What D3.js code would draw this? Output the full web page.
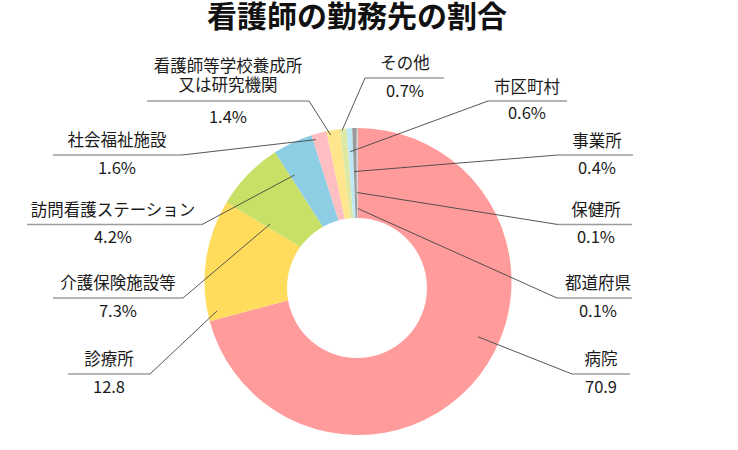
<!DOCTYPE html>
<html lang="ja">
<head>
<meta charset="utf-8">
<script src="https://cdn.jsdelivr.net/npm/d3@7"></script>
<style>
    html, body { margin: 0; padding: 0; background: #fff; }
    svg { display: block; font-family: "Noto Sans CJK JP", "Noto Sans", sans-serif; }
</style>
</head>
<body>
<div id="chart"></div>
<script>
// ── Data ─────────────────────────────
const categories = ['病院', '診療所', '介護保険施設等', '訪問看護ステーション', '社会福祉施設',
    '看護師等学校養成所\n又は研究機関', 'その他', '市区町村', '事業所', '保健所', '都道府県'];
const values = [70.9, 12.8, 7.3, 4.2, 1.6, 1.4, 0.7, 0.6, 0.4, 0.1, 0.1];
const valueLabels = ['70.9', '12.8', '7.3%', '4.2%', '1.6%', '1.4%', '0.7%', '0.6%', '0.4%', '0.1%', '0.1%'];
const colors = ['#ff9b9b', '#ffdc5c', '#c9e066', '#8ecee4', '#ffbec1', '#ffe68c',
    '#dde9a3', '#bfe8f5', '#9a9a9a', '#b4b4b4', '#cfcfcf'];

// label placement (text centre, baselines, underline, leader anchor inside slice)
const labelLayout = [
    { x: 601, nameY: 365, valueY: 393, lineY: 374, x1: 572, x2: 630, side: 'right', t: 0.45, r: 132 },
    { x: 109, nameY: 365, valueY: 393, lineY: 374, x1: 68, x2: 150, side: 'left', t: 0.07, r: 144 },
    { x: 118, nameY: 289, valueY: 317, lineY: 298, x1: 53, x2: 183, side: 'left', t: 0.08, r: 105 },
    { x: 113, nameY: 216, valueY: 243, lineY: 224.5, x1: 27, x2: 202, side: 'left', t: 0.12, r: 124 },
    { x: 117, nameY: 146, valueY: 174, lineY: 155, x1: 53, x2: 182, side: 'left', t: 0.19, r: 148 },
    { x: 228, nameY: 72, valueY: 123, lineY: 101, x1: 147, x2: 309, side: 'left', t: 0.26, r: 149 },
    { x: 405, nameY: 69, valueY: 96.5, lineY: 78, x1: 365, x2: 444, side: 'right', t: 0.33, r: 152 },
    { x: 527, nameY: 92.5, valueY: 118.5, lineY: 101, x1: 488, x2: 567, side: 'right', t: 0.4, r: 130 },
    { x: 597, nameY: 147, valueY: 174, lineY: 155, x1: 558, x2: 633, side: 'right', t: 0.15, r: 110 },
    { x: 596, nameY: 216, valueY: 243, lineY: 224.5, x1: 558, x2: 632, side: 'right', t: 0.5, r: 89 },
    { x: 598, nameY: 289, valueY: 316.5, lineY: 298, x1: 557, x2: 632, side: 'right', t: 0.5, r: 73 }
];

const W = 738, H = 450;
const cx = 358, cy = 281.5;
const outerR = 153.5;

const svg = d3.select('#chart')
    .append('svg')
    .attr('width', W)
    .attr('height', H);

// Title
svg.append('text')
    .attr('x', 357)
    .attr('y', 26.5)
    .attr('text-anchor', 'middle')
    .style('font-size', '30px')
    .style('font-weight', 700)
    .style('fill', '#111')
    .text('看護師の勤務先の割合');

const pie = d3.pie().sort(null).value(d => d);
const arcs = pie(values);

const arc = d3.arc().innerRadius(0).outerRadius(outerR);

const g = svg.append('g').attr('transform', `translate(${cx},${cy})`);

g.selectAll('path')
    .data(arcs)
    .enter()
    .append('path')
    .attr('d', arc)
    .attr('fill', (d, i) => colors[i]);

// donut hole (sits a little low in the original)
svg.append('circle')
    .attr('cx', 357)
    .attr('cy', 288)
    .attr('r', 70)
    .attr('fill', '#fff');

// ── Labels ─────────────────────────────
const labels = svg.append('g');

arcs.forEach((d, i) => {
    const L = labelLayout[i];
    const ang = d.startAngle + L.t * (d.endAngle - d.startAngle);
    const p = d3.arc().innerRadius(L.r).outerRadius(L.r)
        .centroid({ startAngle: ang, endAngle: ang });
    const ax = L.side === 'left' ? L.x2 : L.x1;

    // underline
    labels.append('line')
        .attr('x1', L.x1).attr('x2', L.x2)
        .attr('y1', L.lineY).attr('y2', L.lineY)
        .attr('stroke', '#9c9c9c')
        .attr('stroke-width', 1.3);

    // leader
    labels.append('line')
        .attr('x1', ax).attr('y1', L.lineY)
        .attr('x2', cx + p[0]).attr('y2', cy + p[1])
        .attr('stroke', '#444')
        .attr('stroke-width', 0.9);

    const name = labels.append('text')
        .attr('x', L.x)
        .attr('y', L.nameY)
        .attr('text-anchor', 'middle')
        .style('font-size', '16.5px')
        .style('fill', '#1a1a1a');
    categories[i].split('\n').forEach((s, k) => {
        name.append('tspan')
            .attr('x', L.x)
            .attr('dy', k === 0 ? 0 : 19)
            .text(s);
    });

    labels.append('text')
        .attr('x', L.x)
        .attr('y', L.valueY)
        .attr('text-anchor', 'middle')
        .style('font-size', '16.5px')
        .style('fill', '#1a1a1a')
        .text(valueLabels[i]);
});
</script>
</body>
</html>
